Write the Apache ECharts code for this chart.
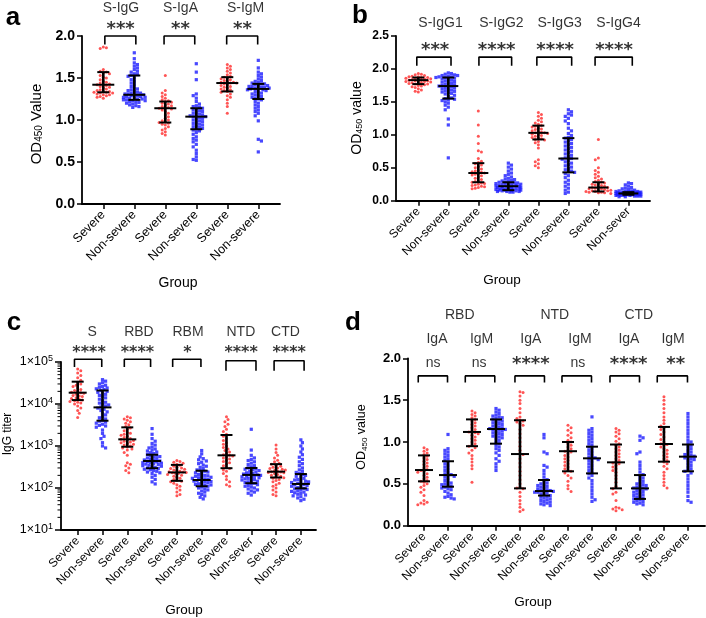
<!DOCTYPE html>
<html>
<head>
<meta charset="utf-8">
<script src="https://cdn.jsdelivr.net/npm/echarts@6/dist/echarts.min.js"></script>
<style>
  html, body { margin: 0; background: #fff; }
  #main { width: 706px; height: 618px; }
</style>
</head>
<body>
<div id="main"></div>
<script>
// ---------- data ----------
// panel a : OD450, S-IgG / S-IgA / S-IgM, severe vs non-severe
const catsA = ['Severe', 'Non-severe', 'Severe', 'Non-severe', 'Severe', 'Non-severe'];
const titlesA = ['S-IgG', 'S-IgA', 'S-IgM'];
const sigA = ['***', '**', '**'];
const a0 = [1.87,1.86,1.85,1.60,1.58,1.57,1.56,1.55,1.53,1.51,1.50,1.48,1.46,1.45,1.44,1.43,1.42,1.42,1.41,1.40,1.39,1.38,1.37,1.36,1.35,1.34,1.34,1.33,1.33,1.32,1.32,1.31,1.30,1.30,1.29,1.28,1.27,1.26];
const a1 = [1.80,1.73,1.68,1.66,1.64,1.62,1.60,1.58,1.57,1.55,1.54,1.53,1.52,1.50,1.48,1.46,1.44,1.42,1.40,1.38,1.37,1.36,1.35,1.34,1.33,1.32,1.32,1.31,1.31,1.30,1.30,1.29,1.29,1.28,1.28,1.27,1.27,1.26,1.26,1.25,1.25,1.24,1.24,1.23,1.23,1.22,1.21,1.21,1.20,1.19,1.18,1.17,1.16,1.15];
const a2 = [1.53,1.35,1.32,1.30,1.28,1.26,1.24,1.23,1.22,1.21,1.20,1.19,1.18,1.17,1.16,1.15,1.14,1.14,1.13,1.12,1.10,1.08,1.06,1.04,1.02,1.00,0.99,0.98,0.97,0.96,0.95,0.94,0.92,0.90,0.88,0.86,0.84,0.82];
const a3 = [1.67,1.57,1.48,1.31,1.29,1.26,1.22,1.19,1.17,1.16,1.15,1.14,1.13,1.12,1.11,1.10,1.09,1.08,1.07,1.06,1.05,1.05,1.04,1.04,1.03,1.02,1.01,1.00,0.99,0.98,0.97,0.96,0.95,0.94,0.93,0.92,0.91,0.90,0.89,0.88,0.87,0.85,0.83,0.80,0.78,0.76,0.74,0.71,0.68,0.64,0.60,0.56,0.53,0.52];
const a4 = [1.66,1.64,1.62,1.60,1.58,1.56,1.54,1.52,1.51,1.50,1.49,1.48,1.47,1.46,1.45,1.45,1.44,1.44,1.43,1.42,1.41,1.40,1.39,1.38,1.37,1.36,1.35,1.34,1.33,1.31,1.29,1.27,1.24,1.20,1.16,1.08];
const a5 = [1.71,1.62,1.57,1.55,1.53,1.51,1.49,1.47,1.46,1.45,1.44,1.43,1.43,1.42,1.41,1.41,1.40,1.40,1.39,1.39,1.38,1.38,1.37,1.37,1.36,1.36,1.35,1.34,1.33,1.32,1.31,1.30,1.29,1.28,1.27,1.26,1.25,1.24,1.22,1.20,1.18,1.16,1.14,1.12,1.10,1.08,1.05,0.99,0.77,0.75,0.62];
const medA = [1.42, 1.30, 1.14, 1.04, 1.44, 1.37];
const q1A  = [1.33, 1.24, 0.97, 0.89, 1.34, 1.25];
const q3A  = [1.57, 1.53, 1.22, 1.14, 1.51, 1.43];

// panel b : OD450, S-IgG1..4
const catsB = ['Severe', 'Non-severe', 'Severe', 'Non-severe', 'Severe', 'Non-severe', 'Severe', 'Non-sever'];
const titlesB = ['S-IgG1', 'S-IgG2', 'S-IgG3', 'S-IgG4'];
const sigB = ['***', '****', '****', '****'];
const b0 = [1.93,1.92,1.91,1.90,1.89,1.88,1.88,1.87,1.87,1.86,1.86,1.85,1.85,1.84,1.84,1.83,1.83,1.82,1.82,1.81,1.81,1.80,1.80,1.79,1.79,1.78,1.77,1.77,1.76,1.75,1.74,1.73,1.72,1.70,1.68,1.66,1.65];
const b1 = [1.94,1.93,1.92,1.91,1.90,1.90,1.89,1.88,1.88,1.87,1.87,1.86,1.85,1.84,1.83,1.82,1.81,1.80,1.79,1.78,1.77,1.76,1.75,1.74,1.74,1.73,1.72,1.71,1.70,1.69,1.68,1.67,1.66,1.65,1.64,1.63,1.62,1.60,1.58,1.56,1.55,1.54,1.53,1.52,1.50,1.48,1.45,1.42,1.38,1.24,1.15,0.65];
const b2 = [1.36,1.15,0.98,0.87,0.76,0.74,0.64,0.60,0.58,0.56,0.54,0.52,0.50,0.48,0.46,0.45,0.44,0.43,0.42,0.41,0.40,0.39,0.38,0.36,0.34,0.32,0.30,0.29,0.28,0.27,0.26,0.25,0.24,0.23,0.22,0.21,0.20,0.19,0.18];
const b3 = [0.57,0.54,0.51,0.48,0.45,0.42,0.40,0.38,0.36,0.34,0.33,0.32,0.31,0.30,0.29,0.28,0.28,0.27,0.27,0.26,0.26,0.25,0.25,0.24,0.24,0.23,0.23,0.22,0.22,0.22,0.21,0.21,0.20,0.20,0.20,0.19,0.19,0.18,0.18,0.18,0.17,0.17,0.17,0.16,0.16,0.16,0.15,0.15,0.15,0.14,0.14,0.14,0.13,0.13];
const b4 = [1.34,1.31,1.28,1.25,1.22,1.20,1.18,1.16,1.14,1.13,1.12,1.10,1.09,1.08,1.06,1.05,1.04,1.03,1.03,1.02,1.01,1.00,0.99,0.98,0.96,0.95,0.94,0.93,0.92,0.90,0.88,0.85,0.80,0.62,0.59,0.56,0.53,0.50];
const b5 = [1.38,1.35,1.32,1.30,1.28,1.25,1.21,1.17,1.10,1.06,1.02,0.99,0.96,0.95,0.93,0.91,0.89,0.87,0.85,0.83,0.81,0.79,0.77,0.75,0.73,0.71,0.69,0.67,0.65,0.64,0.63,0.61,0.59,0.57,0.55,0.53,0.51,0.49,0.47,0.45,0.44,0.43,0.41,0.38,0.35,0.31,0.28,0.25,0.22,0.19,0.16,0.13,0.11];
const b6 = [0.93,0.65,0.62,0.50,0.46,0.43,0.40,0.37,0.35,0.33,0.31,0.29,0.28,0.27,0.26,0.25,0.24,0.23,0.22,0.21,0.20,0.20,0.19,0.18,0.18,0.17,0.16,0.16,0.15,0.15,0.14,0.14,0.13,0.13,0.12,0.12,0.11];
const b7 = [0.27,0.26,0.24,0.22,0.20,0.19,0.18,0.17,0.16,0.15,0.15,0.14,0.14,0.14,0.13,0.13,0.13,0.13,0.12,0.12,0.12,0.12,0.12,0.11,0.11,0.11,0.11,0.11,0.11,0.10,0.10,0.10,0.10,0.10,0.10,0.09,0.09,0.09,0.09,0.09,0.08,0.08,0.08,0.08,0.07,0.07,0.07,0.06,0.06];
const medB = [1.83, 1.74, 0.42, 0.22, 1.03, 0.64, 0.20, 0.11];
const q1B  = [1.77, 1.55, 0.28, 0.16, 0.93, 0.43, 0.14, 0.09];
const q3B  = [1.87, 1.87, 0.57, 0.28, 1.14, 0.95, 0.28, 0.13];

// panel c : IgG titer (log), S / RBD / RBM / NTD / CTD
const catsC = ['Severe', 'Non-severe', 'Severe', 'Non-severe', 'Severe', 'Non-severe', 'Severe', 'Non-sever', 'Severe', 'Non-severe'];
const titlesC = ['S', 'RBD', 'RBM', 'NTD', 'CTD'];
const sigC = ['****', '****', '*', '****', '****'];
const c0 = [68000,62000,55000,48000,42000,37000,33000,30000,28000,26000,24000,22000,21000,20000,19000,18500,18000,17000,16000,15500,15000,14000,13500,13000,12500,12000,11500,11000,10500,10000,9000,8000,7000,6000,4800];
const c1 = [38000,35000,32000,30000,28000,26000,25000,24000,23000,22000,21000,20000,19000,18000,17000,16000,15000,14000,13000,12000,11000,10500,10000,9500,9000,8500,8000,7500,7000,6500,6000,5500,5000,4700,4400,4100,3900,3700,3500,3300,3100,3000,2800,2400,2000,1700,1500,1200,1000,900];
const c2 = [5000,4700,4400,4100,3800,3500,3200,2900,2700,2500,2300,2100,2000,1900,1800,1700,1600,1500,1450,1400,1350,1300,1250,1200,1150,1100,1050,1000,950,900,850,800,700,600,400,370,340,300,260,230];
const c3 = [2600,1900,1500,1300,1150,1050,950,900,850,800,760,720,690,660,630,600,580,560,540,520,500,480,465,450,440,430,420,410,400,390,380,370,360,350,340,330,320,310,300,290,280,270,260,250,240,230,220,200,180,160,140,125];
const c4 = [450,430,410,390,370,350,330,310,300,290,280,270,260,250,245,240,235,230,225,220,210,200,190,180,170,160,150,145,140,130,120,110,100,90,80,70,65];
const c5 = [780,650,550,500,470,440,410,380,350,330,310,290,270,260,250,240,230,220,210,200,195,190,185,180,175,170,165,160,155,150,146,142,138,134,130,126,122,118,114,110,105,100,95,90,85,80,75,70,65,60,55];
const c6 = [5000,4300,3800,3300,2900,2500,2200,1900,1700,1500,1350,1200,1100,1000,920,850,780,720,670,620,600,580,550,520,490,460,430,400,370,340,310,290,270,250,220,190,160,140,120,110];
const c7 = [2500,800,600,520,480,450,420,390,360,340,320,300,290,280,270,260,250,240,230,220,215,210,205,200,195,190,185,180,175,170,165,160,155,150,145,140,135,130,125,120,115,110,105,100,95,90,85,80,75,68];
const c8 = [1050,850,700,600,520,460,420,390,370,350,330,310,300,290,280,270,260,250,245,240,235,230,220,210,200,190,180,175,170,160,150,140,130,120,110,100,90,80,70,65];
const c9 = [1400,1200,1000,850,720,620,540,480,420,380,340,300,270,250,235,220,210,200,190,180,170,160,155,150,145,140,135,130,126,122,118,114,110,106,102,98,95,92,89,86,83,80,77,74,71,68,65,62,58,54,50];
const medC = [18600, 8300, 1440, 440, 235, 155, 600, 205, 245, 125];
const q1C  = [12400, 4000, 960, 296, 148, 110, 296, 130, 178, 98];
const q3C  = [34000, 21000, 2780, 620, 355, 258, 1830, 300, 370, 215];
const minorC = [20,30,40,50,60,70,80,90,200,300,400,500,600,700,800,900,2000,3000,4000,5000,6000,7000,8000,9000,20000,30000,40000,50000,60000,70000,80000,90000];

// panel d : OD450, IgA / IgM against RBD / NTD / CTD
const catsD = ['Severe', 'Non-severe', 'Severe', 'Non-severe', 'Severe', 'Non-severe', 'Severe', 'Non-severe', 'Severe', 'Non-severe', 'Severe', 'Non-severe'];
const antigensD = ['RBD', 'NTD', 'CTD'];
const titlesD = ['IgA', 'IgM', 'IgA', 'IgM', 'IgA', 'IgM'];
const sigD = ['ns', 'ns', '****', 'ns', '****', '**'];
const d0 = [0.93,0.91,0.89,0.87,0.85,0.83,0.81,0.79,0.77,0.75,0.73,0.71,0.69,0.67,0.66,0.65,0.64,0.62,0.60,0.58,0.56,0.54,0.53,0.52,0.50,0.48,0.46,0.43,0.40,0.36,0.30,0.28,0.27,0.26,0.25];
const d1 = [1.09,0.92,0.90,0.88,0.86,0.84,0.82,0.80,0.78,0.76,0.74,0.72,0.70,0.68,0.66,0.64,0.62,0.61,0.60,0.59,0.58,0.56,0.54,0.52,0.51,0.50,0.49,0.48,0.47,0.46,0.45,0.44,0.43,0.41,0.39,0.37,0.35,0.34,0.33,0.32];
const d2 = [1.37,1.35,1.33,1.31,1.29,1.27,1.25,1.23,1.21,1.19,1.17,1.15,1.13,1.12,1.11,1.10,1.08,1.06,1.04,1.02,1.00,0.98,0.96,0.95,0.93,0.90,0.87,0.84,0.80,0.76,0.72,0.68,0.52];
const d3 = [1.40,1.38,1.36,1.34,1.32,1.31,1.30,1.29,1.28,1.27,1.26,1.25,1.24,1.23,1.22,1.21,1.20,1.19,1.18,1.17,1.16,1.16,1.15,1.15,1.14,1.13,1.12,1.11,1.10,1.09,1.08,1.07,1.06,1.05,1.04,1.02,1.00,0.98,0.96,0.94,0.92,0.90,0.87,0.84,0.80,0.77,0.74,0.70,0.66];
const d4 = [1.60,1.59,1.55,1.50,1.46,1.40,1.35,1.30,1.28,1.26,1.25,1.24,1.22,1.20,1.15,1.10,1.05,1.00,0.95,0.90,0.86,0.85,0.80,0.75,0.70,0.65,0.60,0.55,0.50,0.46,0.45,0.44,0.40,0.35,0.30,0.26,0.22,0.19,0.17];
const d5 = [1.09,1.05,0.88,0.86,0.72,0.70,0.66,0.62,0.58,0.55,0.53,0.51,0.50,0.49,0.48,0.47,0.46,0.45,0.44,0.43,0.42,0.42,0.41,0.41,0.40,0.40,0.39,0.38,0.37,0.36,0.35,0.34,0.33,0.32,0.31,0.30,0.29,0.28,0.27,0.26,0.25,0.24];
const d6 = [1.20,1.17,1.14,1.11,1.08,1.05,1.02,1.00,0.98,0.96,0.94,0.92,0.90,0.89,0.88,0.86,0.84,0.82,0.80,0.78,0.76,0.74,0.72,0.70,0.68,0.66,0.65,0.63,0.60,0.57,0.53,0.48,0.44,0.41];
const d7 = [1.30,1.16,1.14,1.12,1.10,1.08,1.06,1.04,1.02,1.00,0.98,0.96,0.94,0.92,0.90,0.88,0.86,0.84,0.82,0.81,0.80,0.79,0.78,0.76,0.74,0.72,0.70,0.68,0.66,0.64,0.62,0.60,0.57,0.54,0.50,0.46,0.42,0.38,0.34,0.31,0.29];
const d8 = [1.16,1.14,1.12,1.10,1.07,1.04,1.01,0.98,0.96,0.94,0.92,0.90,0.88,0.86,0.84,0.82,0.80,0.78,0.76,0.75,0.74,0.72,0.70,0.68,0.66,0.64,0.60,0.56,0.52,0.47,0.44,0.40,0.38,0.30,0.22,0.21,0.20,0.19,0.18];
const d9 = [1.07,1.05,1.02,0.88,0.86,0.76,0.72,0.68,0.64,0.61,0.59,0.57,0.55,0.53,0.51,0.50,0.49,0.48,0.47,0.46,0.45,0.45,0.44,0.43,0.42,0.41,0.40,0.39,0.38,0.37,0.36,0.35,0.34,0.33,0.32,0.31,0.30,0.29,0.28,0.27,0.26,0.25];
const d10 = [1.54,1.50,1.45,1.40,1.35,1.30,1.26,1.22,1.19,1.17,1.15,1.12,1.09,1.06,1.03,1.00,0.98,0.97,0.96,0.94,0.92,0.90,0.88,0.86,0.84,0.82,0.80,0.78,0.76,0.74,0.71,0.68,0.64,0.60,0.56,0.52,0.48,0.45];
const d11 = [1.34,1.30,1.26,1.22,1.18,1.14,1.10,1.06,1.02,1.00,0.98,0.96,0.94,0.92,0.90,0.88,0.86,0.85,0.84,0.83,0.82,0.81,0.80,0.79,0.78,0.76,0.74,0.72,0.70,0.68,0.66,0.65,0.63,0.60,0.56,0.52,0.48,0.44,0.40,0.35,0.30,0.28];
const medD = [0.665, 0.605, 1.12, 1.155, 0.856, 0.414, 0.89, 0.805, 0.757, 0.446, 0.976, 0.825];
const q1D  = [0.53, 0.466, 0.95, 0.98, 0.446, 0.36, 0.65, 0.625, 0.446, 0.32, 0.765, 0.65];
const q3D  = [0.84, 0.77, 1.27, 1.27, 1.26, 0.546, 1.00, 0.944, 0.97, 0.605, 1.18, 0.97];

// ---------- layout ----------
const FONT = "Arial, 'Liberation Sans', Helvetica, sans-serif";
const STARFONT = "'DejaVu Sans', sans-serif";
const RED = '#ff2a2a';
const BLUE = '#1a1aff';

const panels = [
  { grid: {left: 82, top: 36, width: 198, height: 168}, xmin: -0.687, xmax: 5.70, unitX: 31,
    ymin: 0, ymax: 2, interval: 0.5, pxY: 84.2, cats: catsA, spread: 12,
    vals: [a0, a1, a2, a3, a4, a5], med: medA, q1: q1A, q3: q3A,
    tickFont: 14, catFont: 12.5, medHalf: 11, capHalf: 6,
    brackets: [[0.05, 1.05], [1.96, 2.95], [3.98, 4.98]], brTop: [2, 2, 2], brLeg: [1.9, 1.9, 1.9],
    notes: [[titlesA, [0.57, 2.49, 4.59], 2.334, 'title'], [sigA, [0.56, 2.49, 4.49], 2.085, 'star']] },
  { grid: {left: 396, top: 36, width: 254, height: 164.7}, xmin: -0.743, xmax: 7.72, unitX: 30,
    ymin: 0, ymax: 2.5, interval: 0.5, pxY: 65.9, cats: catsB, spread: 13,
    vals: [b0, b1, b2, b3, b4, b5, b6, b7], med: medB, q1: q1B, q3: q3B,
    tickFont: 12, catFont: 12, medHalf: 10, capHalf: 6,
    brackets: [[-0.05, 1.09], [2.02, 3.11], [3.95, 5.11], [5.89, 7.13]], brTop: [2.18, 2.18, 2.18, 2.18], brLeg: [2.05, 2.05, 2.05, 2.05],
    notes: [[titlesB, [0.74, 2.77, 4.71, 6.67], 2.697, 'title'], [sigB, [0.56, 2.61, 4.56, 6.52], 2.29, 'star']] },
  { grid: {left: 61, top: 362, width: 255, height: 168}, xmin: -0.673, xmax: 9.61, unitX: 24.8,
    log: true, ymin: 10, ymax: 100000, pxY: 42, cats: catsC, spread: 10,
    vals: [c0, c1, c2, c3, c4, c5, c6, c7, c8, c9], med: medC, q1: q1C, q3: q3C,
    tickFont: 12.5, catFont: 12, medHalf: 9, capHalf: 6,
    brackets: [[-0.13, 0.97], [1.88, 2.94], [3.83, 4.97], [5.98, 7.19], [7.92, 9.13]],
    brTop: [116000, 116000, 116000, 107000, 107000], brLeg: [76000, 76000, 76000, 62000, 62000],
    notes: [[titlesC, [0.58, 2.47, 4.45, 6.58, 8.38], 518000, 'title'], [sigC, [0.46, 2.41, 4.43, 6.59, 8.53], 162000, 'starc']] },
  { grid: {left: 408, top: 358.3, width: 297, height: 167.4}, xmin: -0.667, xmax: 11.71, unitX: 24,
    ymin: 0, ymax: 2, interval: 0.5, pxY: 83.7, cats: catsD, spread: 10,
    vals: [d0, d1, d2, d3, d4, d5, d6, d7, d8, d9, d10, d11], med: medD, q1: q1D, q3: q3D,
    tickFont: 13, catFont: 12, medHalf: 9, capHalf: 6,
    brackets: [[-0.24, 0.98], [1.72, 2.95], [3.79, 5.02], [5.75, 6.98], [7.75, 8.98], [9.72, 10.98]],
    brTop: [1.79, 1.79, 1.79, 1.79, 1.79, 1.79], brLeg: [1.71, 1.71, 1.71, 1.71, 1.71, 1.71],
    notes: [[antigensD, [1.49, 5.45, 8.95], 2.517, 'title'], [titlesD, [0.54, 2.4, 4.45, 6.5, 8.54, 10.38], 2.231, 'title'],
            [sigD, [0.38, 2.30, 4.45, 6.41, 8.53, 10.49], 1.925, 'sig']] }
];

// spread points of one group sideways (dot-plot layout), kept inside +-spread px
function swarm(vals, idx, unitX, toPx, gap, spread) {
  const placed = [], out = [];
  vals.forEach(function (v, n) {
    const py = toPx(v);
    const near = placed.filter(p => Math.abs(p[1] - py) < gap);
    const s = n % 2 ? 1 : -1;
    let best = 0, bestD = -1;
    for (let k = 0; ; k++) {
      const cand = k === 0 ? 0 : (k % 2 ? s : -s) * Math.ceil(k / 2) * gap * 0.5;
      if (Math.abs(cand) > spread) break;
      let d = Infinity;
      near.forEach(p => { d = Math.min(d, Math.hypot(p[0] - cand, p[1] - py)); });
      if (d >= gap) { best = cand; bestD = d; break; }
      if (d > bestD) { bestD = d; best = cand; }
    }
    placed.push([best, py]);
    out.push([idx + best / unitX, v]);
  });
  return out;
}

function errItem(medHalf, capHalf) {
  return function (params, api) {
    const m = api.coord([api.value(0), api.value(1)]);
    const lo = api.coord([api.value(0), api.value(2)]);
    const hi = api.coord([api.value(0), api.value(3)]);
    const st = {stroke: '#000', lineWidth: 2};
    return {type: 'group', children: [
      {type: 'line', shape: {x1: m[0], y1: lo[1], x2: m[0], y2: hi[1]}, style: {stroke: '#000', lineWidth: 2.6}},
      {type: 'line', shape: {x1: m[0] - medHalf, y1: m[1], x2: m[0] + medHalf, y2: m[1]}, style: st},
      {type: 'line', shape: {x1: m[0] - capHalf, y1: lo[1], x2: m[0] + capHalf, y2: lo[1]}, style: st},
      {type: 'line', shape: {x1: m[0] - capHalf, y1: hi[1], x2: m[0] + capHalf, y2: hi[1]}, style: st}
    ]};
  };
}

const noteStyle = {
  title: {fontSize: 14, fontFamily: FONT, fontWeight: 'normal'},
  sig: {fontSize: 14, fontFamily: FONT, fontWeight: 'normal'},
  star: {fontSize: 18, fontFamily: STARFONT, fontWeight: 'bold'},
  starc: {fontSize: 16, fontFamily: STARFONT, fontWeight: 'bold'}
};

const grids = [], xAxes = [], yAxes = [], series = [];
const axisLineStyle = {color: '#000', width: 1.8};

panels.forEach(function (P, k) {
  grids.push(Object.assign({containLabel: false}, P.grid));
  const idxs = P.cats.map((c, i) => i);
  xAxes.push({
    type: 'value', gridIndex: k, min: P.xmin, max: P.xmax,
    axisLine: {show: true, onZero: false, lineStyle: axisLineStyle},
    axisTick: {show: true, customValues: idxs, length: 5, lineStyle: {color: '#000', width: 1.5}},
    axisLabel: {customValues: idxs, rotate: 45, margin: 9, color: '#000', fontSize: P.catFont, fontFamily: FONT,
                formatter: v => P.cats[Math.round(v)]},
    splitLine: {show: false}
  });
  const y = {
    gridIndex: k, min: P.ymin, max: P.ymax,
    axisLine: {show: true, onZero: false, lineStyle: axisLineStyle},
    axisTick: {show: true, length: 5, lineStyle: {color: '#000', width: 1.5}},
    splitLine: {show: false}
  };
  if (P.log) {
    y.type = 'log';
    y.logBase = 10;
    y.axisTick.length = 6;
    y.axisLabel = {margin: 8, color: '#000', fontFamily: FONT,
      formatter: v => '{b|1×10}{s|' + Math.round(Math.log10(v)) + '}',
      rich: {b: {fontSize: P.tickFont, fontFamily: FONT, lineHeight: 16}, s: {fontSize: 9, fontFamily: FONT, verticalAlign: 'top'}}};
  } else {
    y.type = 'value';
    y.interval = P.interval;
    y.axisLabel = {margin: 7, color: '#000', fontWeight: 'bold', fontSize: P.tickFont, fontFamily: FONT,
                   formatter: v => v.toFixed(1)};
  }
  yAxes.push(y);
  const toPx = P.log ? (v => Math.log10(v) * P.pxY) : (v => v * P.pxY);

  P.vals.forEach(function (vals, i) {
    const severe = i % 2 === 0;
    series.push({
      type: 'scatter', xAxisIndex: k, yAxisIndex: k, silent: true, z: 2,
      symbol: severe ? 'circle' : 'rect', symbolSize: severe ? 3 : 3.2,
      itemStyle: {color: severe ? RED : BLUE},
      data: swarm(vals, i, P.unitX, toPx, 3.1, P.spread)
    });
  });

  series.push({
    type: 'custom', xAxisIndex: k, yAxisIndex: k, silent: true, z: 5,
    renderItem: errItem(P.medHalf, P.capHalf),
    data: P.med.map((m, i) => [i, m, P.q1[i], P.q3[i]])
  });

  P.brackets.forEach(function (b, j) {
    series.push({
      type: 'line', xAxisIndex: k, yAxisIndex: k, silent: true, clip: false, symbol: 'none', z: 4,
      lineStyle: {color: '#000', width: 1.6},
      data: [[b[0], P.brLeg[j]], [b[0], P.brTop[j]], [b[1], P.brTop[j]], [b[1], P.brLeg[j]]]
    });
  });

  const noteData = [];
  P.notes.forEach(function (row) {
    const texts = row[0], xs = row[1];
    texts.forEach(function (t, j) {
      let kind = row[3];
      let yv = row[2];
      if (kind === 'sig') {
        if (t === 'ns') { yv = 1.944; } else { kind = 'star'; }
      }
      noteData.push({value: [xs[j], yv],
        label: Object.assign({show: true, position: 'inside', color: '#000', formatter: t}, noteStyle[kind])});
    });
  });
  series.push({
    type: 'scatter', xAxisIndex: k, yAxisIndex: k, silent: true, clip: false, z: 6,
    symbolSize: 1, itemStyle: {color: 'rgba(0,0,0,0)'}, data: noteData
  });

  if (P.log) {
    series.push({
      type: 'custom', xAxisIndex: k, yAxisIndex: k, silent: true, clip: false, z: 3,
      renderItem: function (params, api) {
        const p = api.coord([P.xmin, api.value(1)]);
        return {type: 'line', shape: {x1: p[0] - 3.5, y1: p[1], x2: p[0], y2: p[1]}, style: {stroke: '#000', lineWidth: 1}};
      },
      data: minorC.map(v => [P.xmin, v])
    });
  }
});

// axis titles and panel letters
function vtitle(x, y, text, size) {
  return {type: 'text', x: x, y: y, rotation: Math.PI / 2,
    style: {text: text, fill: '#000', align: 'center', verticalAlign: 'middle', textAlign: 'center', textVerticalAlign: 'middle',
      font: size + 'px ' + FONT,
      rich: {n: {fontSize: size, fontFamily: FONT}, s: {fontSize: Math.round(size * 0.65), fontFamily: FONT, verticalAlign: 'bottom'}}}};
}
function htext(x, y, text, size, weight) {
  return {type: 'text', x: x, y: y,
    style: {text: text, fill: '#000', align: 'center', verticalAlign: 'middle', textAlign: 'center', textVerticalAlign: 'middle',
      font: (weight || 'normal') + ' ' + size + 'px ' + FONT}};
}

const chart = echarts.init(document.getElementById('main'), null, {renderer: 'canvas'});
chart.setOption({
  animation: false,
  backgroundColor: '#fff',
  grid: grids,
  xAxis: xAxes,
  yAxis: yAxes,
  series: series,
  graphic: [
    htext(13, 18, 'a', 26, 'bold'),
    htext(360, 16, 'b', 26, 'bold'),
    htext(14, 323, 'c', 26, 'bold'),
    htext(353, 323, 'd', 26, 'bold'),
    vtitle(37, 124, '{n|OD}{s|450}{n| Value}', 15),
    vtitle(357, 118, '{n|OD}{s|450}{n| value}', 14),
    {type: 'text', x: 8, y: 434, rotation: Math.PI / 2,
     style: {text: 'IgG titer', fill: '#000', align: 'center', verticalAlign: 'middle', textAlign: 'center', textVerticalAlign: 'middle', font: '12px ' + FONT}},
    vtitle(362, 437, '{n|OD}{s|450}{n| value}', 12.5),
    htext(178, 283, 'Group', 14),
    htext(502, 280, 'Group', 13.5),
    htext(184, 610, 'Group', 13.5),
    htext(533, 602, 'Group', 13.5)
  ]
});
</script>
</body>
</html>
